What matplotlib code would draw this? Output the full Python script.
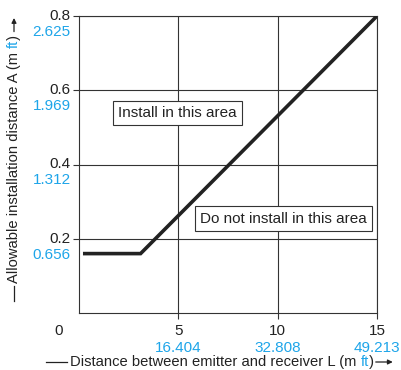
import matplotlib
matplotlib.use('Agg')
import matplotlib.pyplot as plt
from matplotlib.lines import Line2D
from matplotlib.transforms import IdentityTransform

# distance between emitter and receiver L (m) vs allowable distance A (m)
dist_m = [0.2, 3.1, 15.0]
allow_m = [0.16, 0.16, 0.8]

x_ticks_m = [5, 10, 15]
x_ticks_ft = ['16.404', '32.808', '49.213']
y_ticks_m = [0.2, 0.4, 0.6, 0.8]
y_ticks_ft = ['0.656', '1.312', '1.969', '2.625']

BLUE = '#1ea5e9'
DARK = '#222222'
GRID = '#333333'

plt.rcParams['font.family'] = ['Liberation Sans', 'DejaVu Sans']
plt.rcParams['font.size'] = 10

fig = plt.figure(figsize=(4.01, 3.70), dpi=100)
ax = fig.add_axes([79 / 401, 57 / 370, 298 / 401, 297 / 370])

ax.plot(dist_m, allow_m, color=DARK, lw=2.6, solid_capstyle='butt',
        solid_joinstyle='miter', zorder=3)

ax.set_xlim(0, 15)
ax.set_ylim(0, 0.8)
ax.set_xticks(x_ticks_m)
ax.set_yticks(y_ticks_m)
ax.set_xticklabels([])
ax.set_yticklabels([])
ax.tick_params(direction='out', length=4, width=0.8, color=GRID)
ax.grid(True, color=GRID, lw=0.8)
for s in ax.spines.values():
    s.set_color(GRID)
    s.set_linewidth(0.8)

# tick labels: metres in black, feet in blue underneath
TFS = 11
for v, ft in zip(y_ticks_m, y_ticks_ft):
    ax.annotate(f'{v:.1f}', (0, v), xycoords=('axes fraction', 'data'),
                xytext=(-6, 0), textcoords='offset points',
                ha='right', va='center', color=DARK, fontsize=TFS)
    ax.annotate(ft, (0, v), xycoords=('axes fraction', 'data'),
                xytext=(-6, -11.5), textcoords='offset points',
                ha='right', va='center', color=BLUE, fontsize=TFS)
for v, ft in zip(x_ticks_m, x_ticks_ft):
    ax.annotate(str(v), (v, 0), xycoords=('data', 'axes fraction'),
                xytext=(0, -13), textcoords='offset points',
                ha='center', va='center', color=DARK, fontsize=TFS)
    ax.annotate(ft, (v, 0), xycoords=('data', 'axes fraction'),
                xytext=(0, -25), textcoords='offset points',
                ha='center', va='center', color=BLUE, fontsize=TFS)
ax.annotate('0', (0, 0), xycoords='axes fraction', xytext=(-15, -13),
            textcoords='offset points', ha='center', va='center',
            color=DARK, fontsize=TFS)

box = dict(boxstyle='square,pad=0.35', fc='white', ec=GRID, lw=0.8)
ax.text(4.95, 0.539, 'Install in this area', ha='center', va='center',
        fontsize=11, color=DARK, bbox=box, zorder=4)
ax.text(10.3, 0.2545, 'Do not install in this area', ha='center', va='center',
        fontsize=11, color=DARK, bbox=box, zorder=4)

# axis titles built from pieces so "ft" can be blue
fig.canvas.draw()
r = fig.canvas.get_renderer()
px = IdentityTransform()
LFS = 10.6

x_parts = [('Distance between emitter and receiver L (m ', DARK), ('ft', BLUE), (')', DARK)]
xpos = 70
for s, c in x_parts:
    t = fig.text(xpos, 8, s, color=c, ha='left', va='center', fontsize=LFS, transform=px)
    xpos = t.get_window_extent(r).x1
fig.add_artist(Line2D([46, 67], [8, 8], color=DARK, lw=0.9, transform=px))
ax.annotate('', xy=(xpos + 19, 8), xytext=(xpos + 2, 8), xycoords='figure pixels',
            arrowprops=dict(arrowstyle='-|>', color=DARK, lw=0.9, mutation_scale=7,
                            shrinkA=0, shrinkB=0))

y_parts = [('Allowable installation distance A (m ', DARK), ('ft', BLUE), (')', DARK)]
ypos = 87
for s, c in y_parts:
    t = fig.text(14, ypos, s, color=c, ha='center', va='bottom', rotation=90,
                 fontsize=LFS, transform=px)
    ypos = t.get_window_extent(r).y1
fig.add_artist(Line2D([14, 14], [69, 84], color=DARK, lw=0.9, transform=px))
ax.annotate('', xy=(14, 352), xytext=(14, ypos + 3), xycoords='figure pixels',
            arrowprops=dict(arrowstyle='-|>', color=DARK, lw=0.9, mutation_scale=7,
                            shrinkA=0, shrinkB=0))

fig.savefig('out.png', dpi=100)
